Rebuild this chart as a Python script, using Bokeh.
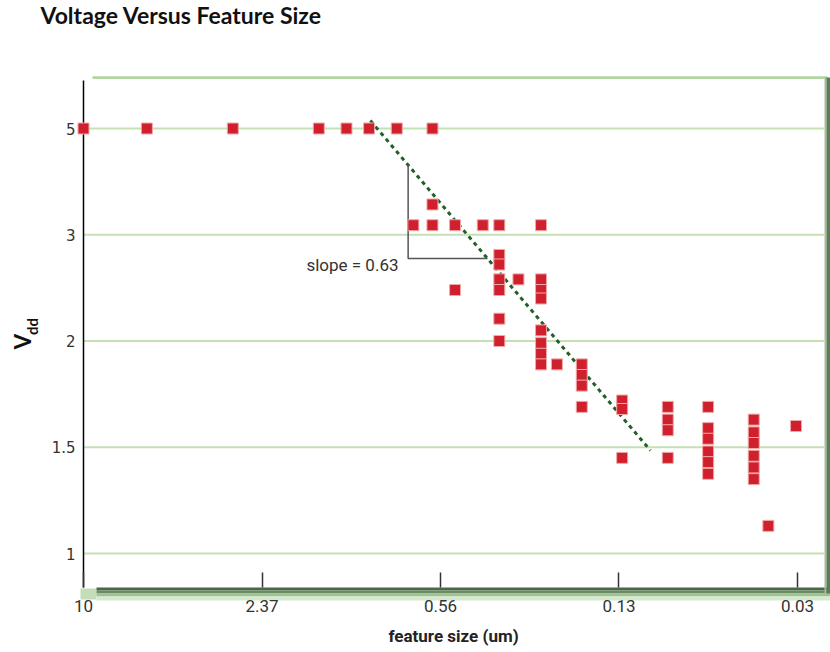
import numpy as np
from bokeh.plotting import figure
from bokeh.models import Range1d, FixedTicker, BoxAnnotation, Label, ColumnDataSource
from bokeh.embed import file_html
from bokeh.resources import INLINE

# ---------------- data ----------------
title_text = "Voltage Versus Feature Size"
x_label_text = "feature size (um)"
slope_text = "slope = 0.63"

x_tick_values = [10, 2.371, 0.5623, 0.1334, 0.03162]
x_tick_labels = ["10", "2.37", "0.56", "0.13", "0.03"]
y_tick_values = [1, 1.5, 2, 3, 5]
y_tick_labels = ["1", "1.5", "2", "3", "5"]

feature_um = [10, 6, 3, 1.5, 1.2, 1.0, 0.8, 0.6,
              0.6, 0.6,
              0.7,
              0.5, 0.5,
              0.4,
              0.35, 0.35, 0.35, 0.35, 0.35, 0.35, 0.35,
              0.3,
              0.25, 0.25, 0.25, 0.25, 0.25, 0.25, 0.25, 0.25,
              0.22,
              0.18, 0.18, 0.18, 0.18,
              0.13, 0.13, 0.13,
              0.09, 0.09, 0.09, 0.09,
              0.065, 0.065, 0.065, 0.065, 0.065, 0.065,
              0.045, 0.045, 0.045, 0.045, 0.045, 0.045,
              0.04,
              0.032]
vdd = [5, 5, 5, 5, 5, 5, 5, 5,
       3.57, 3.18,
       3.18,
       3.18, 2.48,
       3.18,
       3.18, 2.81, 2.72, 2.58, 2.48, 2.21, 2.0,
       2.58,
       3.18, 2.58, 2.48, 2.40, 2.10, 1.99, 1.94, 1.89,
       1.89,
       1.89, 1.84, 1.79, 1.69,
       1.72, 1.68, 1.45,
       1.69, 1.63, 1.58, 1.45,
       1.69, 1.59, 1.54, 1.48, 1.43, 1.375,
       1.63, 1.57, 1.52, 1.46, 1.405, 1.35,
       1.13,
       1.60]

trend_feature = [0.99, 0.1035]
trend_vdd = [5.15, 1.485]

slope_run_feature = 0.73   # left edge of the slope bracket
slope_rise_vdd = 2.776     # bottom edge of the slope bracket

# ---------------- scales ----------------
level_vals = list(range(len(y_tick_values))) + [len(y_tick_values)]
volt_vals = y_tick_values + [7]


def lvl(v):
    return np.interp(v, volt_vals, level_vals)


def fx(px):  # canvas pixel -> feature value (log axis, reversed)
    return 10 ** (1 - (px - 83) / 285.6)


def ly(py):  # canvas pixel -> level
    return (553 - py) / 106.25


W, H = 830, 652
p = figure(width=W, height=H, x_axis_type="log",
           x_range=Range1d(fx(0), fx(W)), y_range=Range1d(ly(H), ly(0)),
           output_backend="svg", toolbar_location=None, title=None, min_border=0)
p.outline_line_color = None
p.background_fill_color = "white"
p.border_fill_color = "white"
p.xgrid.visible = False
p.ygrid.visible = False

AXIS_X = 10          # feature value where the vertical axis sits
X_AXIS_LEVEL = ly(587)

# x axis (inside the canvas-wide frame)
p.xaxis.fixed_location = X_AXIS_LEVEL
p.xaxis.ticker = FixedTicker(ticks=x_tick_values, minor_ticks=[])
p.xaxis.major_label_overrides = {v: l for v, l in zip(x_tick_values, x_tick_labels)}
p.xaxis.axis_line_color = None
p.xaxis.major_tick_in = 15
p.xaxis.major_tick_out = 0
p.xaxis.minor_tick_in = 0
p.xaxis.minor_tick_out = 0
p.xaxis.major_tick_line_color = "#333333"
p.xaxis.major_tick_line_width = 1.5
p.xaxis.major_label_standoff = 12
p.xaxis.major_label_text_font = "Roboto"
p.xaxis.major_label_text_font_size = "17px"
p.xaxis.major_label_text_color = "#333333"

# y axis
y_levels = list(range(len(y_tick_values)))
p.yaxis.fixed_location = fx(78)
p.yaxis.ticker = FixedTicker(ticks=y_levels, minor_ticks=[])
p.yaxis.major_label_overrides = {i: l for i, l in zip(y_levels, y_tick_labels)}
p.yaxis.axis_line_color = None
p.yaxis.major_tick_in = 0
p.yaxis.major_tick_out = 0
p.yaxis.minor_tick_in = 0
p.yaxis.minor_tick_out = 0
p.yaxis.major_label_standoff = 3
p.yaxis.major_label_text_font = "DejaVu Sans"
p.yaxis.major_label_text_font_size = "15px"
p.yaxis.major_label_text_color = "#333333"

# horizontal grid lines at the y ticks
p.segment(x0=[AXIS_X] * len(y_levels), x1=[fx(824)] * len(y_levels), y0=y_levels, y1=y_levels,
          line_color="#c5e0b3", line_width=2)

# frame decorations (beneath axes and marks)
p.add_layout(BoxAnnotation(left=fx(92), right=fx(827), top=ly(75.8), bottom=ly(78.4), level="underlay",
                           fill_color="#b3d4a4", fill_alpha=1, line_color=None))
p.add_layout(BoxAnnotation(left=fx(80), right=fx(96), top=ly(588), bottom=ly(599), level="underlay",
                           fill_color="#c4ddb8", fill_alpha=1, line_color=None))
for top, bot, col in [(587, 590, "#4a6846"), (590, 593, "#6b8b65"), (593, 596, "#9fc292"), (596, 600, "#d6eacd")]:
    p.add_layout(BoxAnnotation(left=fx(96), right=fx(830), top=ly(top), bottom=ly(bot), level="underlay",
                               fill_color=col, fill_alpha=1, line_color=None))
p.add_layout(BoxAnnotation(left=fx(824), right=fx(826), top=ly(77), bottom=ly(593), level="underlay",
                           fill_color="#a3bd9d", fill_alpha=1, line_color=None))
p.add_layout(BoxAnnotation(left=fx(826), right=fx(830), top=ly(77), bottom=ly(593), level="underlay",
                           fill_color="#5d7b58", fill_alpha=1, line_color=None))
p.segment(x0=[AXIS_X], x1=[AXIS_X], y0=[ly(80)], y1=[ly(587)], line_color="black", line_width=1.5)

# trend line and slope bracket
trend_lvl = lvl(trend_vdd)
p.line(trend_feature, trend_lvl, line_color="#22602a", line_width=3, line_dash="4 4")
tlog = np.log10(trend_feature)
br_top = np.interp(np.log10(slope_run_feature), tlog[::-1], trend_lvl[::-1])
br_bot = float(lvl(slope_rise_vdd))
br_right = 10 ** np.interp(br_bot, trend_lvl[::-1], tlog[::-1])
p.line([slope_run_feature, slope_run_feature, br_right], [br_top, br_bot, br_bot],
       line_color="#555555", line_width=1.5)

# points
src = ColumnDataSource(dict(x=feature_um, y=lvl(vdd)))
p.scatter(x="x", y="y", source=src, marker="square", size=11,
          fill_color="#d0202e", line_color="#f0a8a8", line_width=1)

# texts
p.add_layout(Label(x=fx(398), y=ly(264), text=slope_text, text_align="right", text_baseline="middle",
                   text_font="Roboto", text_font_size="17px", text_color="#333333"))
p.add_layout(Label(x=fx(40), y=ly(14), text=title_text, text_align="left", text_baseline="middle",
                   text_font="Lato", text_font_style="bold", text_font_size="23px", text_color="#111111"))
p.add_layout(Label(x=fx(453), y=ly(635), text=x_label_text, text_align="center", text_baseline="middle",
                   text_font="Roboto", text_font_style="bold", text_font_size="17px", text_color="#222222"))
p.add_layout(Label(x=fx(22), y=ly(341), text="V", angle=np.pi / 2, text_align="center",
                   text_baseline="middle", text_font="Lato", text_font_style="bold",
                   text_font_size="22px", text_color="#111111"))
p.add_layout(Label(x=fx(31), y=ly(326), text="dd", angle=np.pi / 2, text_align="center",
                   text_baseline="middle", text_font="Lato", text_font_style="bold",
                   text_font_size="15px", text_color="#111111"))

open("out.html", "w").write(file_html(p, INLINE))
